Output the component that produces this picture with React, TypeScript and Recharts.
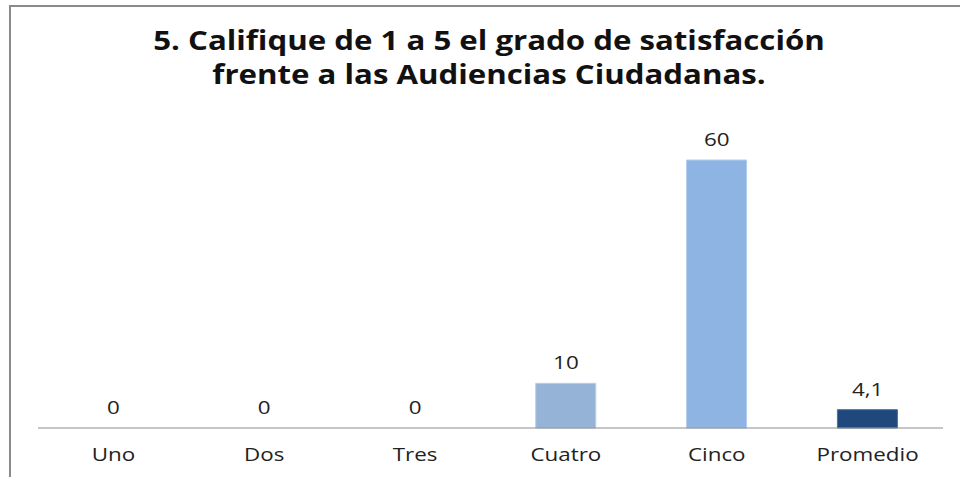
import { ComposedChart, Bar, Line, XAxis, YAxis, LabelList, Cell } from 'recharts'

const categorias = ['Uno', 'Dos', 'Tres', 'Cuatro', 'Cinco', 'Promedio']
const valores = [0, 0, 0, 10, 60, 4.1]
const colores = ['#95b3d7', '#95b3d7', '#95b3d7', '#95b3d7', '#8db4e3', '#1f497d']
const bordes = ['#b9cde5', '#b9cde5', '#b9cde5', '#b9cde5', '#b3cdee', '#4f6d96']

const data = categorias.map((c, i) => ({ cat: c, valor: valores[i] }))

const font = '"Open Sans", "Noto Sans", sans-serif'
const ESTIRA = 1.28

const Tick = (props: any) => {
  const { x, y, payload } = props
  return (
    <text transform={`translate(${x},${y + 25}) scale(${ESTIRA},1)`} textAnchor="middle" fontSize={17.5} fill="#222" fontFamily={font}>
      {payload.value}
    </text>
  )
}

const Etiqueta = (props: any) => {
  const { x, y, value } = props
  return (
    <text transform={`translate(${x},${y - 14}) scale(${ESTIRA},1)`} textAnchor="middle" fontSize={17.5} fill="#222" fontFamily={font}>
      {String(value).replace('.', ',')}
    </text>
  )
}

export default function App() {
  return (
    <div style={{ position: 'absolute', left: 0, top: 0, width: 960, height: 477, background: '#fff', fontFamily: font, overflow: 'hidden' }}>
      <div style={{ position: 'absolute', left: 9, top: 5, width: 960, height: 480, borderTop: '2px solid #8a8a8a', borderLeft: '2px solid #8a8a8a' }} />
      <div style={{ position: 'absolute', left: 0, top: 23, width: 978, textAlign: 'center', fontWeight: 700, fontSize: 26, lineHeight: '34px', color: '#111', transform: 'scaleX(1.2)', transformOrigin: '489px 0' }}>
        5. Califique de 1 a 5 el grado de satisfacción<br />frente a las Audiencias Ciudadanas.
      </div>
      <ComposedChart width={960} height={477} data={data} margin={{ top: 160, right: 17, left: 38, bottom: 0 }} barCategoryGap="30%">
        <XAxis dataKey="cat" height={49} axisLine={{ stroke: '#8c8c8c' }} tickLine={false} tick={<Tick />} />
        <YAxis hide domain={[0, 60]} />
        <Bar dataKey="valor" isAnimationActive={false}>
          {data.map((d, i) => <Cell key={d.cat} fill={colores[i]} stroke={bordes[i]} strokeWidth={1} />)}
        </Bar>
        <Line dataKey="valor" stroke="none" dot={false} activeDot={false} isAnimationActive={false}>
          <LabelList dataKey="valor" content={<Etiqueta />} />
        </Line>
      </ComposedChart>
    </div>
  )
}
